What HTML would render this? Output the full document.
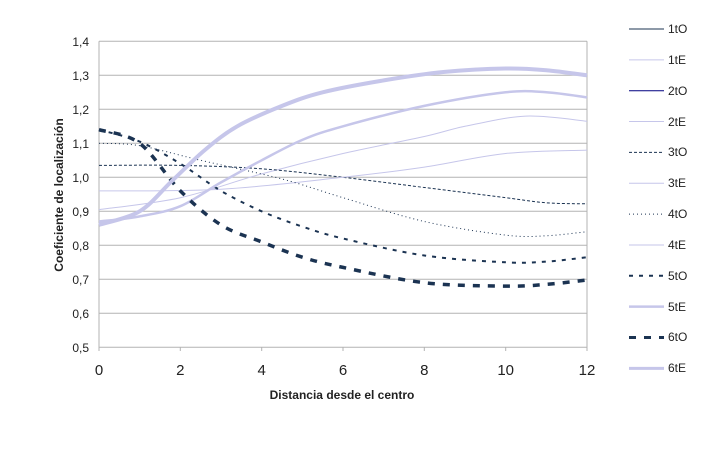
<!DOCTYPE html>
<html><head><meta charset="utf-8"><style>
body{margin:0;background:#fff}
svg{display:block;font-family:"Liberation Sans",sans-serif}
</style></head><body>
<svg id="s" width="718" height="454" xmlns="http://www.w3.org/2000/svg">
<rect width="718" height="454" fill="#fff"/>
<g stroke="#b3b3b3" stroke-width="1">
<line x1="99" x2="587" y1="41.3" y2="41.3"/><line x1="99" x2="587" y1="75.3" y2="75.3"/>
<line x1="99" x2="587" y1="109.3" y2="109.3"/><line x1="99" x2="587" y1="143.3" y2="143.3"/>
<line x1="99" x2="587" y1="177.3" y2="177.3"/><line x1="99" x2="587" y1="211.3" y2="211.3"/>
<line x1="99" x2="587" y1="245.3" y2="245.3"/><line x1="99" x2="587" y1="279.3" y2="279.3"/>
<line x1="99" x2="587" y1="313.3" y2="313.3"/><line x1="99" x2="587" y1="347.3" y2="347.3"/>
<line x1="99" x2="99" y1="41.3" y2="351"/><line x1="587" x2="587" y1="41.3" y2="351"/>
<line x1="180.3" x2="180.3" y1="347" y2="351"/><line x1="261.7" x2="261.7" y1="347" y2="351"/>
<line x1="343" x2="343" y1="347" y2="351"/><line x1="424.3" x2="424.3" y1="347" y2="351"/>
<line x1="505.7" x2="505.7" y1="347" y2="351"/>
</g>
<g id="curves"></g>
<g font-size="12" fill="#222" text-anchor="end">
<text x="89" y="46">1,4</text><text x="89" y="80">1,3</text><text x="89" y="114">1,2</text>
<text x="89" y="148">1,1</text><text x="89" y="182">1,0</text><text x="89" y="216">0,9</text>
<text x="89" y="250">0,8</text><text x="89" y="284">0,7</text><text x="89" y="318">0,6</text>
<text x="89" y="352">0,5</text>
</g>
<g font-size="15" fill="#222" text-anchor="middle">
<text x="99" y="375">0</text><text x="180.3" y="375">2</text><text x="261.7" y="375">4</text>
<text x="343" y="375">6</text><text x="424.3" y="375">8</text><text x="505.7" y="375">10</text>
<text x="587" y="375">12</text>
</g>
<text x="342" y="399" font-size="12" font-weight="bold" text-anchor="middle" fill="#222">Distancia desde el centro</text>
<text transform="translate(63,195) rotate(-90)" font-size="12" font-weight="bold" text-anchor="middle" fill="#222">Coeficiente de localización</text>
<g id="legend" font-size="12" fill="#222"></g>
</svg>
<script>
var NS="http://www.w3.org/2000/svg";
function X(d){return 99+d*40.667}
function Y(v){return 347.3-(v-0.5)*340}
function path(pts){
  var p=pts.map(function(a){return [X(a[0]),Y(a[1])]});
  var d="M"+p[0][0]+","+p[0][1];
  for(var i=0;i<p.length-1;i++){
    var p0=p[i-1]||p[i],p1=p[i],p2=p[i+1],p3=p[i+2]||p2;
    var c1=[p1[0]+(p2[0]-p0[0])/6,p1[1]+(p2[1]-p0[1])/6];
    var c2=[p2[0]-(p3[0]-p1[0])/6,p2[1]-(p3[1]-p1[1])/6];
    d+=" C"+c1+" "+c2+" "+p2;
  }
  return d;
}
var L="#c6c6ea";
var S=[
 {n:"1tO",c:"#1b3352",w:1,pts:[[0,1.0],[12,1.0]]},
 {n:"1tE",c:L,w:1,pts:[[0,1.0],[12,1.0]]},
 {n:"2tO",c:"#000080",w:1,pts:[[0,1.0],[12,1.0]]},
 {n:"2tE",c:L,w:1,pts:[[0,0.905],[2,0.94],[4,1.01],[6,1.07],[8,1.12],[9,1.15],[10.5,1.18],[12,1.165]]},
 {n:"3tO",c:"#1b3352",w:1,da:"3,2",pts:[[0,1.035],[2,1.035],[4,1.025],[6,1.0],[8,0.97],[10,0.94],[11,0.925],[12,0.922]]},
 {n:"3tE",c:L,w:1,pts:[[0,0.96],[3,0.965],[6,1.0],[8,1.03],[10,1.07],[12,1.08]]},
 {n:"4tO",c:"#1b3352",w:1,da:"1,3",pts:[[0,1.1],[1,1.093],[2.5,1.05],[4.5,0.995],[6,0.94],[8,0.87],[10,0.83],[11,0.828],[12,0.84]]},
 {n:"4tE",c:L,w:1,pts:[[0,1.0],[12,1.0]]},
 {n:"5tO",c:"#1b3352",w:2,da:"4,6",pts:[[0,1.14],[1,1.105],[2,1.04],[3,0.96],[4,0.9],[5,0.855],[6,0.82],[8,0.77],[10,0.75],[11,0.752],[12,0.765]]},
 {n:"5tE",c:L,w:2.5,pts:[[0,0.87],[1,0.885],[2,0.915],[3,0.985],[4,1.05],[5,1.11],[6,1.15],[8,1.21],[10,1.25],[11,1.25],[12,1.235]]},
 {n:"6tO",c:"#1b3352",w:3.5,da:"7,8",pts:[[0,1.14],[1,1.1],[2,0.96],[3,0.86],[4,0.81],[5,0.765],[6,0.735],[8,0.69],[10,0.68],[11,0.685],[12,0.698]]},
 {n:"6tE",c:L,w:4,pts:[[0,0.86],[1,0.9],[1.8,0.99],[2.6,1.08],[3.4,1.15],[4.5,1.21],[5.5,1.25],[7,1.285],[8.5,1.31],[10,1.32],[11,1.315],[12,1.3]]}
];
var g=document.getElementById("curves"),lg=document.getElementById("legend");
[1,3,5,7,11,0,2,4,6,8,10,9].forEach(function(){});
S.forEach(function(s,i){
  var e=document.createElementNS(NS,"path");
  e.setAttribute("d",path(s.pts));e.setAttribute("fill","none");
  e.setAttribute("stroke",s.c);e.setAttribute("stroke-width",s.w);
  if(s.da)e.setAttribute("stroke-dasharray",s.da);
  if(s.n!="1tO"&&s.n!="2tO"&&s.n!="1tE"&&s.n!="4tE")g.appendChild(e);
  var y=29+i*30.85;
  var l=document.createElementNS(NS,"line");
  l.setAttribute("x1",629);l.setAttribute("x2",664);l.setAttribute("y1",y);l.setAttribute("y2",y);
  l.setAttribute("stroke",s.c);l.setAttribute("stroke-width",Math.min(s.w,3));
  if(s.da)l.setAttribute("stroke-dasharray",s.da);
  lg.appendChild(l);
});
</script>
<svg width="0" height="0"></svg>
<div style="position:absolute;left:0;top:0;width:718px;height:454px;pointer-events:none;font-family:'Liberation Sans',sans-serif;font-size:12px;color:#222">
<div style="position:absolute;left:668px;top:22px">1tO</div>
<div style="position:absolute;left:668px;top:53px">1tE</div>
<div style="position:absolute;left:668px;top:84px">2tO</div>
<div style="position:absolute;left:668px;top:115px">2tE</div>
<div style="position:absolute;left:668px;top:145px">3tO</div>
<div style="position:absolute;left:668px;top:176px">3tE</div>
<div style="position:absolute;left:668px;top:207px">4tO</div>
<div style="position:absolute;left:668px;top:238px">4tE</div>
<div style="position:absolute;left:668px;top:269px">5tO</div>
<div style="position:absolute;left:668px;top:300px">5tE</div>
<div style="position:absolute;left:668px;top:330px">6tO</div>
<div style="position:absolute;left:668px;top:361px">6tE</div>
</div>
</body></html>
